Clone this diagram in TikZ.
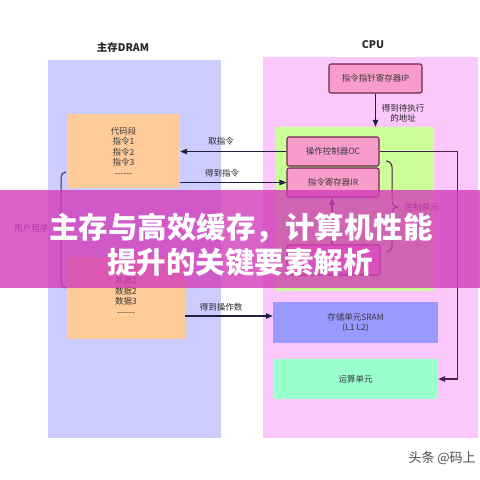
\documentclass[tikz,border=0pt]{standalone}
\usepackage{fontspec}
\setmainfont{Noto Sans CJK SC}
\usetikzlibrary{arrows.meta}
\definecolor{lav}{HTML}{CCCCFF}
\definecolor{orangebox}{HTML}{FFCC99}
\definecolor{cpupink}{HTML}{FCC8FC}
\definecolor{greenarea}{HTML}{CCFF99}
\definecolor{regpink}{HTML}{F79CCB}
\definecolor{regborder}{HTML}{6A2A4A}
\definecolor{sramblue}{HTML}{9999FF}
\definecolor{alugreen}{HTML}{99FFCC}
\definecolor{boxtext}{HTML}{3A3A3A}
\definecolor{arrowcol}{HTML}{1F1F3F}
\definecolor{purpline}{HTML}{4A2050}
\definecolor{bannercol}{HTML}{D23CB9}
\newcommand{\dashrow}{-{}-{}-{}-{}-{}-}
\begin{document}
\begin{tikzpicture}[x=1pt,y=-1pt,
  txt/.style={font=\fontsize{8.5}{10.5}\selectfont, text=boxtext, align=center},
  area/.style={rectangle, draw=none, inner sep=0pt},
  reg/.style={rectangle, rounded corners=2pt, fill=regpink, draw=regborder, line width=1.1pt, inner sep=0pt, txt},
  flat/.style={rectangle, draw=none, inner sep=0pt, txt},
  title/.style={font=\fontsize{10.5}{12}\selectfont\bfseries, text=black!85},
  lbl/.style={font=\fontsize{8.5}{10}\selectfont, text=black!85},
  arr/.style={draw=arrowcol, line width=1.1pt, -{Triangle[length=7pt,width=5.5pt]}},
  brace/.style={draw=purpline, line width=1pt},
  bigtitle/.style={font=\fontsize{29.5}{32}\selectfont\bfseries, text=white}]
\useasboundingbox (0,0) rectangle (480,480);
\fill[white] (0,0) rectangle (480,480);
% panels
\node[area, fill=lav, minimum width=173pt, minimum height=378pt] (dram) at (134.5,249) {};
\node[title] (dramt) at (123,47) {主存DRAM};
\node[area, fill=cpupink, minimum width=215pt, minimum height=381pt] (cpu) at (370.5,247.5) {};
\node[title] (cput) at (373,45) {CPU};
% DRAM boxes
\node[flat, fill=orangebox, minimum width=113pt, minimum height=74pt] (code) at (123.5,151) {};
\node[txt] (codet) at (123.5,151.5) {代码段\\指令1\\指令2\\指令3\\\dashrow};
\node[flat, fill=orangebox, minimum width=118pt, minimum height=82pt] (data) at (126,298) {};
\node[txt] (datat) at (126,296) {数据1\\数据2\\数据3\\\dashrow};
% CPU
\node[area, fill=greenarea, minimum width=158pt, minimum height=164pt] (green) at (355,209) {};
\node[reg, minimum width=93pt, minimum height=29pt] (ip) at (375.5,78.5) {指令指针寄存器IP};
\node[reg, minimum width=92pt, minimum height=29pt] (oc) at (333,151.5) {操作控制器OC};
\node[reg, minimum width=92pt, minimum height=29pt] (ir) at (333,182.5) {指令寄存器IR};
\node[reg, minimum width=93pt, minimum height=30pt] (id) at (333.5,260) {};
\node[flat, fill=sramblue, minimum width=165pt, minimum height=41pt] (sram) at (355.5,322.5) {存储单元SRAM\\(L1 L2)};
\node[flat, fill=alugreen, minimum width=165pt, minimum height=40pt] (alu) at (355.5,379) {运算单元};
% connectors
\draw[arr] (ip.south) -- (ip.south |- green.north);
\node[lbl, align=center] (ipl) at (403,113.5) {得到待执行\\的地址};
\draw[arr] (oc.west) -- (code.east |- oc.west);
\node[lbl] (l1) at (221,141) {取指令};
\draw[arr] (code.east |- ir.west) -- (ir.west);
\node[lbl] (l2) at (222,173) {得到指令};
\draw[arr] (data.east |- 0,316) -- (sram.west |- 0,316);
\node[lbl] (l3) at (221,307) {得到操作数};
\draw[arr] (id.north -| 332,0) -- (ir.south -| 332,0);
\draw[draw=purpline, line width=1.1pt, -{Triangle[length=7pt,width=5.5pt]}] (oc.east) -- ++(78,0) |- (alu.east);
% braces
\draw[brace] (66,172) to[out=180,in=90] (61,177) -- (61,223) to[out=-90,in=0] (56,228) to[out=0,in=90] (61,233) -- (61,283) to[out=-90,in=180] (66,288);
\node[lbl, anchor=east, text=purpline] (userl) at (52,228) {用户程序};
\draw[brace] (386,161) to[out=0,in=90] (392,167) -- (392,201) to[out=-90,in=180] (398,207) to[out=180,in=90] (392,213) -- (392,246) to[out=-90,in=0] (386,252);
\node[lbl, anchor=west, text=purpline] (ctrll) at (401,207) {控制单元};
% banner
\fill[bannercol, fill opacity=0.8] (0,190) rectangle (480,288);
\node[bigtitle] (bt1) at (241,228) {主存与高效缓存，计算机性能};
\node[bigtitle] (bt2) at (240,262) {提升的关键要素解析};
% watermark
\node[anchor=west, font=\fontsize{13}{15}\selectfont, text=black!70] (wm) at (405,458) {头条 @码上};
\end{tikzpicture}
\end{document}
